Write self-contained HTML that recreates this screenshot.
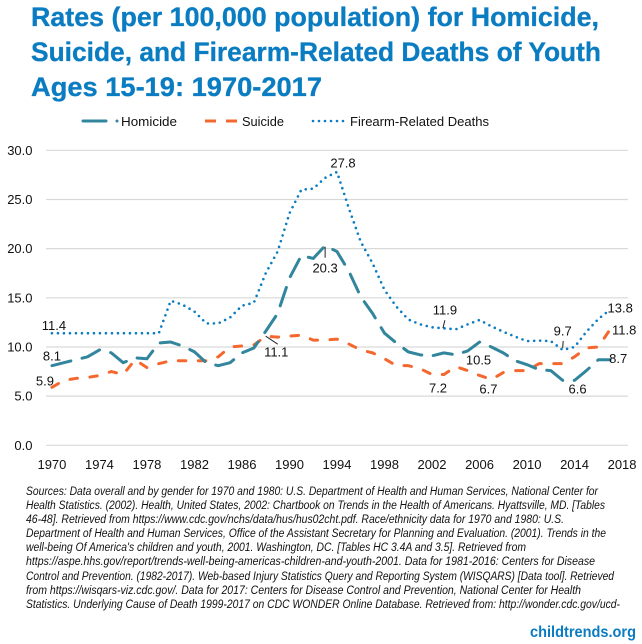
<!DOCTYPE html>
<html lang="en">
<head>
<meta charset="utf-8">
<title>Rates for Homicide, Suicide, and Firearm-Related Deaths of Youth</title>
<style>
html,body{margin:0;padding:0;background:#fff}
svg{display:block}
text{font-family:"Liberation Sans",sans-serif}
</style>
</head>
<body>
<svg id="chart" xmlns="http://www.w3.org/2000/svg" width="642" height="644" viewBox="0 0 642 644">
  <rect width="642" height="644" fill="#ffffff"/>
  <g fill="#0a7cc1" font-size="26.5" font-weight="700" stroke="#0a7cc1" stroke-width="0.3">
    <text x="31" y="26" textLength="568" lengthAdjust="spacingAndGlyphs">Rates (per 100,000 population) for Homicide,</text>
    <text x="31" y="61" textLength="570" lengthAdjust="spacingAndGlyphs">Suicide, and Firearm-Related Deaths of Youth</text>
    <text x="31" y="96" textLength="291" lengthAdjust="spacingAndGlyphs">Ages 15-19: 1970-2017</text>
  </g>
  <g font-size="13" fill="#111">
    <g>
      <line x1="83" y1="121" x2="106" y2="121" stroke="#31859c" stroke-width="3" stroke-linecap="round"/>
      <circle cx="117" cy="121" r="1.5" fill="#31859c"/>
      <text x="121" y="126" textLength="56" lengthAdjust="spacingAndGlyphs">Homicide</text>
    </g>
    <g>
      <line x1="205" y1="121" x2="237" y2="121" stroke="#f4682f" stroke-width="3" stroke-dasharray="11 10"/>
      <text x="242" y="126" textLength="42" lengthAdjust="spacingAndGlyphs">Suicide</text>
    </g>
    <g>
      <line x1="313" y1="121" x2="345" y2="121" stroke="#0a7cc1" stroke-width="2.6" stroke-linecap="round" stroke-dasharray="0 6"/>
      <text x="350" y="126" textLength="139" lengthAdjust="spacingAndGlyphs">Firearm-Related Deaths</text>
    </g>
  </g>
  <g id="grid"></g>
  <g id="yaxis" font-size="13" fill="#111"></g>
  <g id="xaxis" font-size="13" fill="#111"></g>
  <g id="series"></g>
  <g id="labels" font-size="13" fill="#111"></g>
  <g font-size="11.5" font-style="italic" fill="#111">
    <text x="26" y="495" textLength="572" lengthAdjust="spacingAndGlyphs">Sources: Data overall and by gender for 1970 and 1980: U.S. Department of Health and Human Services, National Center for</text>
    <text x="26" y="509" textLength="579" lengthAdjust="spacingAndGlyphs">Health Statistics. (2002). Health, United States, 2002: Chartbook on Trends in the Health of Americans. Hyattsville, MD. [Tables</text>
    <text x="26" y="523" textLength="538" lengthAdjust="spacingAndGlyphs">46-48]. Retrieved from https://www.cdc.gov/nchs/data/hus/hus02cht.pdf. Race/ethnicity data for 1970 and 1980: U.S.</text>
    <text x="26" y="537" textLength="580" lengthAdjust="spacingAndGlyphs">Department of Health and Human Services, Office of the Assistant Secretary for Planning and Evaluation. (2001). Trends in the</text>
    <text x="26" y="551" textLength="500" lengthAdjust="spacingAndGlyphs">well-being Of America's children and youth, 2001. Washington, DC. [Tables HC 3.4A and 3.5]. Retrieved from</text>
    <text x="26" y="565" textLength="569" lengthAdjust="spacingAndGlyphs">https://aspe.hhs.gov/report/trends-well-being-americas-children-and-youth-2001. Data for 1981-2016: Centers for Disease</text>
    <text x="26" y="580" textLength="588" lengthAdjust="spacingAndGlyphs">Control and Prevention. (1982-2017). Web-based Injury Statistics Query and Reporting System (WISQARS) [Data tool]. Retrieved</text>
    <text x="26" y="594" textLength="555" lengthAdjust="spacingAndGlyphs">from https://wisqars-viz.cdc.gov/. Data for 2017: Centers for Disease Control and Prevention, National Center for Health</text>
    <text x="26" y="608" textLength="594" lengthAdjust="spacingAndGlyphs">Statistics. Underlying Cause of Death 1999-2017 on CDC WONDER Online Database. Retrieved from: http://wonder.cdc.gov/ucd-</text>
  </g>
  <text x="530" y="637" font-size="15.5" font-weight="700" fill="#0a7cc1" textLength="106" lengthAdjust="spacingAndGlyphs">childtrends.org</text>
</svg>
<script>
var firstYear = 1970;
var lastYear = 2018;
var yTicks = [0, 5, 10, 15, 20, 25, 30];
var xTickYears = [1970, 1974, 1978, 1982, 1986, 1990, 1994, 1998, 2002, 2006, 2010, 2014, 2018];
var homicide = [8.1,8.4,8.7,9.0,9.7,9.4,8.4,8.9,8.8,10.4,10.5,10.1,9.5,8.4,8.1,8.4,9.4,9.9,11.6,13.4,17.0,19.3,19.0,20.3,19.7,17.7,15.1,13.4,11.4,10.4,9.5,9.2,9.1,9.4,9.2,9.6,10.5,10.0,9.4,8.6,8.2,7.7,7.6,6.6,6.6,7.6,8.7,8.7];
var suicide = [5.9,6.6,6.8,6.9,7.1,7.5,7.2,8.7,7.9,8.3,8.6,8.6,8.6,8.6,9.0,10.0,10.1,10.2,11.1,11.0,11.1,11.2,10.7,10.7,10.8,10.3,9.7,9.4,8.8,8.1,8.1,7.8,7.2,7.2,8.0,7.6,7.1,6.7,7.4,7.6,7.6,8.3,8.3,8.3,9.0,9.9,10.0,11.8];
var firearm = [11.4,11.4,11.4,11.4,11.4,11.4,11.4,11.4,11.4,11.4,14.7,14.3,13.6,12.4,12.4,13.0,14.2,14.5,17.5,19.7,23.6,26.0,26.1,27.2,27.8,24.1,20.7,18.5,15.8,14.1,12.8,12.3,12.0,11.9,11.8,12.3,12.75,12.1,11.55,11.05,10.6,10.65,10.6,9.7,10.0,11.55,12.85,13.8];

var NS = 'http://www.w3.org/2000/svg';
var plotLeft = 46, plotRight = 628, plotTop = 150.3, plotBottom = 445.3, yMax = 30;
function xOf(year) {
  var band = (plotRight - plotLeft) / (lastYear - firstYear + 1);
  return plotLeft + band * (year - firstYear + 0.5);
}
function yOf(value) {
  return plotBottom - (value / yMax) * (plotBottom - plotTop);
}
function make(tag, attrs, parent) {
  var el = document.createElementNS(NS, tag);
  for (var k in attrs) el.setAttribute(k, attrs[k]);
  parent.appendChild(el);
  return el;
}
var gridG = document.getElementById('grid');
var yG = document.getElementById('yaxis');
var xG = document.getElementById('xaxis');
var seriesG = document.getElementById('series');
var labelsG = document.getElementById('labels');

yTicks.forEach(function (t) {
  var ln = make('line', {x1: plotLeft, x2: plotRight, y1: yOf(t), y2: yOf(t), stroke: '#d9d9d9', 'stroke-width': 1.2}, gridG);
  
  
  var tx = make('text', {x: 32.5, y: yOf(t) + 4.5, 'text-anchor': 'end'}, yG);
  
  
  tx.textContent = t.toFixed(1);
});
xTickYears.forEach(function (yr) {
  var tx = make('text', {x: xOf(yr), y: 469, 'text-anchor': 'middle'}, xG);
  
  
  tx.textContent = yr;
});
function pathFor(values) {
  return values.map(function (v, i) {
    return (i ? 'L' : 'M') + xOf(firstYear + i).toFixed(2) + ' ' + yOf(v).toFixed(2);
  }).join(' ');
}
var firearmPath = make('path', {d: pathFor(firearm), fill: 'none', stroke: '#0a7cc1', 'stroke-width': 2.6, 'stroke-linecap': 'round', 'stroke-dasharray': '0 6'}, seriesG);


var suicidePath = make('path', {d: pathFor(suicide), fill: 'none', stroke: '#f4682f', 'stroke-width': 3, 'stroke-linecap': 'round', 'stroke-linejoin': 'round', 'stroke-dasharray': '7.5 12.5'}, seriesG);


var homicidePath = make('path', {d: pathFor(homicide), fill: 'none', stroke: '#31859c', 'stroke-width': 3, 'stroke-linecap': 'round', 'stroke-linejoin': 'round', 'stroke-dasharray': '19.5 11.5'}, seriesG);



function label(values, year, dx, dy, leader) {
  var v = values[year - firstYear];
  var px = xOf(year), py = yOf(v);
  var tx = make('text', {x: px + dx, y: py + dy, 'text-anchor': 'middle'}, labelsG);
  
  
  tx.textContent = v.toFixed(1);
  if (leader) {
    var ln = make('line', {x1: px + leader[0], y1: py + leader[1], x2: px + leader[2], y2: py + leader[3], stroke: '#222', 'stroke-width': 1}, labelsG);
    
    
  }
}
label(firearm, 1970, 2, -3);
label(homicide, 1970, 0, -5);
label(suicide, 1970, -7, -2);
label(suicide, 1988, 10.5, 20.5, [0, 0, 12, 8]);
label(homicide, 1993, 0, 27, [0, 1, 0, 12]);
label(firearm, 1994, 6, -4.5);
label(firearm, 2003, 1, -14, [-1, 0, 1, -8]);
label(suicide, 2002, 6, 18);
label(homicide, 2006, -1, 22.5);
label(suicide, 2007, -3, 14);
label(firearm, 2013, 0, -14.5, [0, -2, 0.5, -9]);
label(homicide, 2014, 3, 13);
label(firearm, 2017, 10, 3);
label(suicide, 2017, 14, 5);
label(homicide, 2017, 8, 3);
</script>
</body>
</html>
